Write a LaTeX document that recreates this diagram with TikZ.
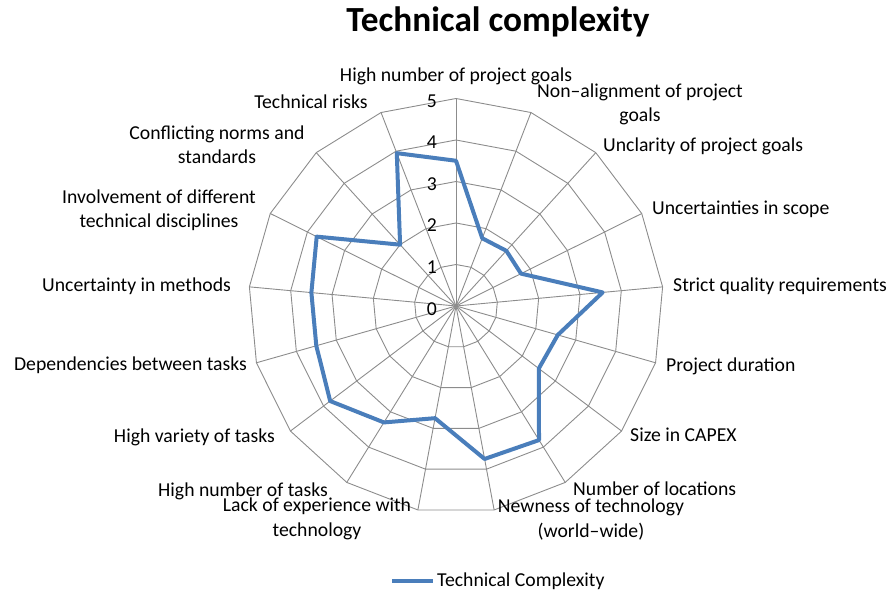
\documentclass[tikz,border=0pt]{standalone}
\usepackage{fontspec}
\setmainfont{Carlito}
\usepackage{tikz}
\usetikzlibrary{positioning}

\definecolor{radarblue}{RGB}{74,126,187}
\definecolor{gridgray}{RGB}{140,140,140}

\begin{document}
\begin{tikzpicture}[x=1pt, y=1pt,
    lbl/.style={font=\fontsize{19.7}{24.5}\selectfont, inner sep=0pt, align=center},
    ring/.style={draw=gridgray, line width=0.9pt},
    series/.style={draw=radarblue, line width=4pt, line join=round}]

    \useasboundingbox (0,0) rectangle (893,595);

    % === Title ===
    \node[font=\fontsize{35.3}{40}\selectfont\bfseries, inner sep=0pt, anchor=base] (Title) at (498,563) {Technical complexity};

    % === Radar grid and data ===
    \begin{scope}[shift={(456,289)}]
        \coordinate (O) at (0,0);
        \foreach \r in {1,...,5}
            \draw[ring] (90:\r*41.5) \foreach \i in {1,...,16} { -- ({90-\i*360/17}:\r*41.5) } -- cycle;
        \foreach \i in {0,...,16}
            \draw[ring] (O) -- ({90-\i*360/17}:207.5);
        \foreach \k in {0,...,5}
            \node[lbl, anchor=base east] (Tick\k) at (-19,{\k*41.5-9}) {\k};
        \draw[series] (90:3.5*41.5) \foreach \v [count=\i] in {1.75,1.8,1.75,3.55,2.55,2.5,3.8,3.75,2.75,3.3,3.8,3.5,3.5,3.75,2.0,3.95} { -- ({90-\i*360/17}:\v*41.5) } -- cycle;
    \end{scope}

    % === Axis labels (two-line ones sit on their last line) ===
    \node[lbl, anchor=base] (Goals) at (456,513) {High number of project goals};
    \node[lbl, anchor=base] (Align) at (640,473) {Non–alignment of project\\goals};
    \node[lbl, anchor=base west] (Unclear) at (603,443) {Unclarity of project goals};
    \node[lbl, anchor=base west] (Scope) at (652,380) {Uncertainties in scope};
    \node[lbl, anchor=base west] (Quality) at (673,304) {Strict quality requirements};
    \node[lbl, anchor=base west] (Duration) at (666,224) {Project duration};
    \node[lbl, anchor=base west] (Capex) at (630,154) {Size in CAPEX};
    \node[lbl, anchor=base west] (Locations) at (573,100) {Number of locations};
    \node[lbl, anchor=base] (Newness) at (591,58) {Newness of technology\\(world–wide)};
    \node[lbl, anchor=base] (Experience) at (317,59) {Lack of experience with\\technology};
    \node[lbl, anchor=base east] (NumTasks) at (328,99) {High number of tasks};
    \node[lbl, anchor=base east] (Variety) at (275,153) {High variety of tasks};
    \node[lbl, anchor=base east] (Depend) at (247,225) {Dependencies between tasks};
    \node[lbl, anchor=base east] (Methods) at (231,304) {Uncertainty in methods};
    \node[lbl, anchor=base] (Disciplines) at (159,367) {Involvement of different\\technical disciplines};
    \node[lbl, anchor=base] (Norms) at (217,431) {Conflicting norms and\\standards};
    \node[lbl, anchor=base] (Risks) at (311,486) {Technical risks};

    % === Legend ===
    \coordinate (LegStart) at (392,14);
    \node[lbl, anchor=base west] (Legend) at (437,9) {Technical Complexity};
    \draw[series, shorten >=4pt] (LegStart) -- (Legend.west |- LegStart);

\end{tikzpicture}
\end{document}
